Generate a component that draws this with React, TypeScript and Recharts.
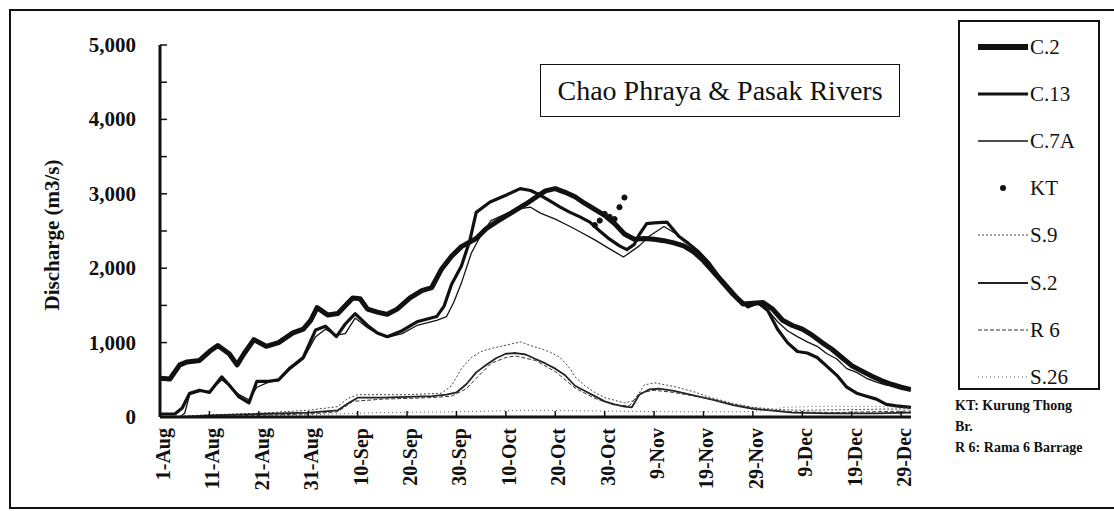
import React from 'react'
import { LineChart, Line, XAxis, YAxis } from 'recharts'

// day index 0 = 1-Aug, 152 = 31-Dec
const X_TICKS = [0, 10, 20, 30, 40, 50, 60, 70, 80, 90, 100, 110, 120, 130, 140, 150]
const X_LABELS = ['1-Aug', '11-Aug', '21-Aug', '31-Aug', '10-Sep', '20-Sep', '30-Sep', '10-Oct', '20-Oct', '30-Oct', '9-Nov', '19-Nov', '29-Nov', '9-Dec', '19-Dec', '29-Dec']
const Y_TICKS = [0, 500, 1000, 1500, 2000, 2500, 3000, 3500, 4000, 4500, 5000]

// [day, discharge m3/s]
const C2 = [[0, 520], [2, 510], [4, 700], [5.5, 740], [8, 760], [10, 880], [11.7, 960], [14, 850], [15.6, 700], [17, 850], [19, 1040], [21.5, 950], [24, 1000], [26.9, 1130], [29, 1180], [30.5, 1300], [31.8, 1470], [34, 1370], [36, 1390], [39, 1600], [40.5, 1590], [42, 1450], [44, 1410], [46, 1380], [48, 1450], [50.6, 1600], [53, 1700], [55, 1740], [57, 1990], [59, 2160], [61, 2290], [64, 2400], [66, 2530], [68, 2620], [70, 2700], [72, 2780], [74, 2860], [76, 2950], [78, 3040], [80, 3070], [82, 3020], [84, 2960], [86, 2870], [88, 2790], [90, 2710], [92, 2600], [94, 2460], [96, 2390], [98, 2400], [100, 2390], [102, 2370], [104, 2340], [106, 2300], [108, 2220], [110, 2100], [112, 1950], [114, 1800], [116, 1650], [118, 1520], [120, 1530], [122, 1540], [124, 1450], [126, 1300], [128, 1230], [130, 1180], [132, 1100], [134, 1000], [136, 910], [138, 800], [140, 690], [142, 620], [144, 550], [146, 490], [148, 440], [150, 400], [152, 370]]
const C13 = [[0, 40], [3, 40], [4.5, 120], [6, 320], [8, 360], [10, 330], [12.5, 540], [14, 430], [16, 270], [18, 190], [19.6, 480], [22, 480], [24, 500], [26.3, 660], [29, 800], [31.5, 1170], [33.5, 1220], [35.7, 1080], [37.5, 1250], [39.5, 1390], [42, 1230], [44, 1130], [46, 1080], [49, 1160], [52, 1280], [56, 1350], [57.5, 1490], [59, 1780], [61, 2030], [62.7, 2370], [64, 2750], [66.8, 2890], [70, 2980], [72.9, 3070], [75, 3045], [77, 2980], [79, 2900], [81, 2820], [83, 2750], [85, 2690], [87, 2620], [89, 2500], [91, 2390], [93, 2300], [94.5, 2250], [96, 2320], [97, 2450], [98.5, 2600], [100, 2610], [102.6, 2620], [105, 2430], [107, 2330], [109, 2220], [111, 2080], [113, 1900], [115, 1750], [117, 1600], [119, 1480], [121, 1540], [123, 1430], [125, 1180], [127, 1000], [129, 880], [131, 860], [133, 800], [135, 680], [137, 560], [139, 400], [141, 320], [143, 280], [145, 240], [147, 170], [149, 150], [152, 130]]
const C7A = [[0, 0], [4, 0], [5, 50], [6, 300], [8, 340], [10, 350], [12.5, 500], [14, 420], [16, 300], [18, 230], [19.6, 400], [22, 470], [24, 490], [26.3, 640], [29, 780], [31.5, 1080], [33.5, 1180], [35.7, 1100], [37.5, 1120], [39.5, 1330], [42, 1200], [44, 1120], [46, 1070], [49, 1120], [52, 1230], [56, 1300], [58, 1350], [59.5, 1550], [61, 1800], [63, 2200], [65, 2450], [67, 2640], [69, 2700], [71, 2760], [73, 2800], [75, 2820], [77, 2740], [80, 2660], [83, 2560], [85, 2490], [88, 2380], [90.5, 2280], [93.8, 2150], [97, 2300], [99, 2430], [102, 2560], [105, 2440], [107, 2330], [109, 2220], [111, 2060], [113, 1880], [115, 1730], [117, 1580], [119, 1470], [121, 1520], [123, 1440], [125, 1280], [127, 1160], [129, 1080], [131, 1010], [133, 950], [135, 850], [137, 780], [139, 650], [141, 600], [143, 520], [145, 470], [147, 430], [150, 400], [152, 380]]
const KT = [[88, 2580], [89, 2640], [90, 2730], [91, 2690], [92, 2660], [93, 2820], [94, 2950]]
const S9 = [[0, 0], [10, 30], [20, 50], [30, 90], [36, 140], [38, 250], [40, 300], [50, 300], [57, 320], [59, 420], [61, 650], [63, 800], [65, 880], [67, 920], [69, 950], [71, 980], [73, 1010], [75, 960], [77, 920], [79, 870], [81, 800], [83, 650], [84, 540], [86, 420], [88, 330], [90, 260], [94, 190], [96, 220], [98, 430], [100, 460], [104, 410], [108, 340], [111, 270], [116, 180], [120, 130], [125, 100], [130, 90], [140, 100], [152, 110]]
const S2 = [[0, 0], [5, 0], [10, 20], [20, 40], [30, 60], [36, 90], [38, 180], [40, 260], [45, 260], [50, 270], [55, 280], [58, 300], [60, 330], [62, 440], [64, 600], [66, 700], [68, 790], [70, 850], [72, 860], [74, 840], [76, 780], [78, 720], [80, 650], [82, 560], [84, 420], [86, 350], [88, 280], [90, 210], [92, 170], [94, 140], [95.5, 130], [97, 300], [99, 370], [101, 380], [104, 350], [108, 290], [112, 230], [116, 160], [120, 110], [124, 85], [128, 60], [135, 50], [145, 50], [152, 60]]
const R6 = [[5, 0], [12, 10], [20, 25], [30, 40], [36, 70], [39, 210], [45, 240], [50, 250], [55, 260], [59, 280], [62, 380], [64, 520], [67, 720], [70, 800], [72, 820], [76, 760], [80, 610], [84, 390], [88, 250], [92, 160], [95, 150], [97, 320], [100, 360], [104, 330], [110, 260], [116, 170], [122, 100], [128, 70], [136, 60], [144, 70], [152, 80]]
const S26 = [[0, 0], [15, 10], [25, 20], [35, 40], [45, 60], [60, 70], [75, 90], [90, 80], [105, 70], [118, 70], [124, 90], [126, 130], [135, 145], [145, 140], [152, 130]]

const SERIES = [
  { name: 'C.2', pts: C2, width: 5, color: '#111' },
  { name: 'C.13', pts: C13, width: 3.2, color: '#111' },
  { name: 'C.7A', pts: C7A, width: 1.3, color: '#111' },
  { name: 'KT', pts: KT, width: 0, color: '#111', dots: true },
  { name: 'S.9', pts: S9, width: 1, color: '#444', dash: '2 2' },
  { name: 'S.2', pts: S2, width: 1.8, color: '#222' },
  { name: 'R 6', pts: R6, width: 1, color: '#333', dash: '4 2' },
  { name: 'S.26', pts: S26, width: 1, color: '#555', dash: '1 3' },
]

const FONT = '"Liberation Serif", "Times New Roman", serif'
const INK = '#111'

const toRows = (pts: number[][]) => pts.map(([d, v]) => ({ d, v }))

const YTick = ({ x, y, payload }: any) => (
  <g>
    <line x1={x + 24} x2={x + 31} y1={y} y2={y} stroke={INK} strokeWidth={1.5} />
    {payload.value % 1000 === 0 && (
      <text x={x} y={y} textAnchor="end" dominantBaseline="central" fontFamily={FONT} fontSize={21} fontWeight="bold" fill={INK}>
        {payload.value.toLocaleString('en-US')}
      </text>
    )}
  </g>
)

const XTick = ({ x, y, payload, index }: any) => (
  <g>
    <line x1={x} x2={x} y1={y - 11} y2={y - 17} stroke={INK} strokeWidth={1.5} />
    <text x={x + 3} y={y} transform={`rotate(-90 ${x + 3} ${y})`} textAnchor="end" dominantBaseline="central" fontFamily={FONT} fontSize={20} fontWeight="bold" fill={INK}>
      {X_LABELS[index] ?? X_LABELS[X_TICKS.indexOf(payload.value)]}
    </text>
  </g>
)

const YTitle = ({ viewBox }: any) => {
  const cx = viewBox.x - 8
  const cy = viewBox.y + viewBox.height / 2 + 4
  return (
    <text x={cx} y={cy} transform={`rotate(-90 ${cx} ${cy})`} textAnchor="middle" dominantBaseline="central" fontFamily={FONT} fontSize={21} fontWeight="bold" fill={INK}>
      Discharge (m3/s)
    </text>
  )
}

function LegendSample({ s }: { s: any }) {
  if (s.dots) {
    return (
      <svg width={50} height={12}>
        <circle cx={25} cy={6} r={3} fill={INK} />
      </svg>
    )
  }
  return (
    <svg width={50} height={12}>
      <line x1={0} x2={50} y1={6} y2={6} stroke={s.color} strokeWidth={s.name === 'C.2' ? 6 : Math.max(s.width, 1)} strokeDasharray={s.dash} />
    </svg>
  )
}

export default function App() {
  return (
    <div style={{ position: 'relative', width: 1114, height: 511, overflow: 'hidden', background: '#fff', fontFamily: FONT }}>
      <style>{'body{margin:0;overflow:hidden}'}</style>

      {/* outer frame */}
      <div style={{ position: 'absolute', left: 9, top: 9, width: 1130, height: 496, border: `2px solid ${INK}` }} />

      <div style={{ position: 'absolute', left: 0, top: 0 }}>
        <LineChart width={1114} height={511} margin={{ top: 45, right: 203, bottom: 24, left: 60 }}>
          <XAxis
            xAxisId={0}
            dataKey="d"
            type="number"
            domain={[0, 152]}
            ticks={X_TICKS}
            interval={0}
            height={70}
            tickSize={0}
            tickMargin={11}
            tickLine={false}
            tick={<XTick />}
            axisLine={{ stroke: INK, strokeWidth: 3 }}
            allowDataOverflow
          />
          <XAxis xAxisId="top" orientation="top" type="number" domain={[0, 152]} height={0} tick={false} tickLine={false} axisLine={{ stroke: INK, strokeWidth: 2 }} />
          <YAxis
            yAxisId={0}
            type="number"
            domain={[0, 5000]}
            ticks={Y_TICKS}
            interval={0}
            width={100}
            tickSize={0}
            tickMargin={24}
            tickLine={false}
            tick={<YTick />}
            axisLine={{ stroke: INK, strokeWidth: 3 }}
            label={<YTitle />}
          />
          <YAxis yAxisId="right" orientation="right" type="number" domain={[0, 5000]} width={0} tick={false} tickLine={false} axisLine={{ stroke: INK, strokeWidth: 3 }} />
          {SERIES.map((s) => (
            <Line
              key={s.name}
              name={s.name}
              data={toRows(s.pts)}
              dataKey="v"
              type="linear"
              stroke={s.dots ? 'none' : s.color}
              strokeWidth={s.width}
              strokeDasharray={s.dash}
              strokeLinejoin="round"
              dot={s.dots ? { r: 2.6, fill: INK, stroke: INK, strokeWidth: 1 } : false}
              activeDot={false}
              isAnimationActive={false}
            />
          ))}
        </LineChart>
      </div>

      {/* title box */}
      <div style={{ position: 'absolute', left: 540, top: 64, width: 360, height: 53, boxSizing: 'border-box', border: `1.5px solid ${INK}`, background: '#fff', display: 'flex', alignItems: 'center', justifyContent: 'center', fontSize: 28, color: INK, whiteSpace: 'nowrap' }}>
        Chao Phraya &amp; Pasak Rivers
      </div>

      {/* legend */}
      <div style={{ position: 'absolute', left: 958, top: 20, width: 142, height: 370, boxSizing: 'border-box', border: `2px solid ${INK}`, background: '#fff' }}>
        {SERIES.map((s, i) => (
          <div key={s.name} style={{ position: 'absolute', left: 18, top: 25 + i * 47.1 - 12, height: 24, display: 'flex', alignItems: 'center' }}>
            <LegendSample s={s} />
            <span style={{ marginLeft: 2, fontSize: 21, color: INK, lineHeight: '24px' }}>{s.name}</span>
          </div>
        ))}
      </div>

      {/* notes */}
      <div style={{ position: 'absolute', left: 955, top: 395, fontSize: 14, fontWeight: 'bold', color: INK, lineHeight: '21px', whiteSpace: 'nowrap' }}>
        <div>KT: Kurung Thong</div>
        <div>Br.</div>
        <div>R 6: Rama 6 Barrage</div>
      </div>
    </div>
  )
}
